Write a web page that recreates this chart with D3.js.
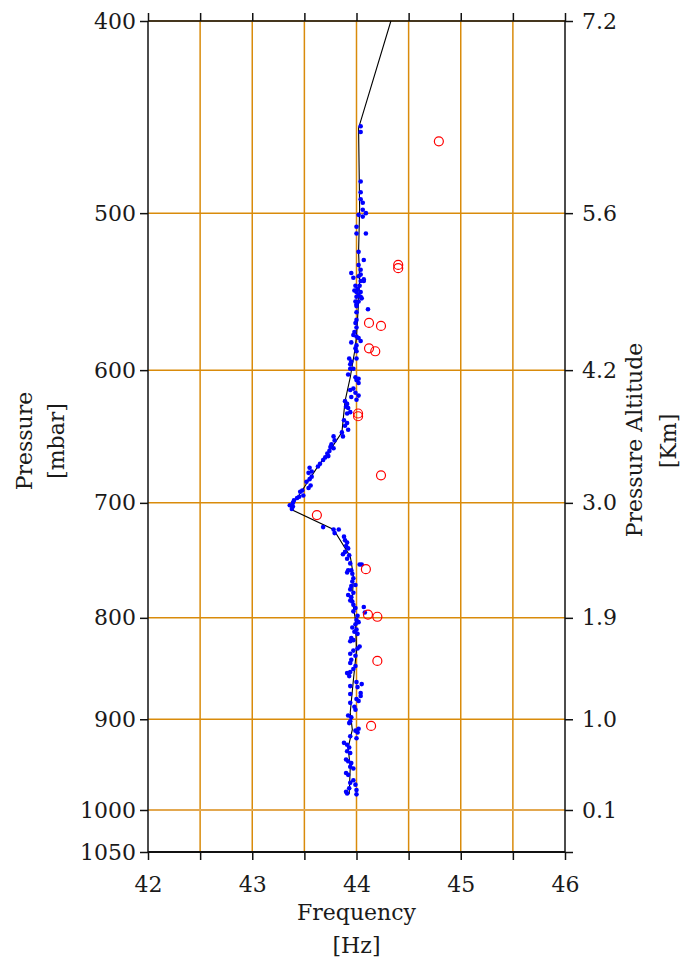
<!DOCTYPE html>
<html><head><meta charset="utf-8">
<script src="https://cdn.jsdelivr.net/npm/d3@7"></script>
<style>
body{margin:0;background:#fff}
text{font-family:"DejaVu Serif",serif;fill:#1a1a1a}
</style>
</head><body>
<svg id="chart" width="683" height="962"></svg>
<script>
// ---- data ----
const freqTicks = [42, 42.5, 43, 43.5, 44, 44.5, 45, 45.5, 46];
const pressureTicks = [400, 500, 600, 700, 800, 900, 1000, 1050];
const altitudeLabels = ["7.2", "5.6", "4.2", "3.0", "1.9", "1.0", "0.1"];

const dotFreq = [44.04,44.04,44.04,44.04,44.04,44.06,44.06,44.09,44.02,44.06,44.00,44.00,44.09,44.02,44.07,44.02,44.04,43.95,44.04,44.02,43.97,44.07,44.04,44.07,
43.99,44.03,44.01,43.98,44.00,44.04,44.02,44.00,44.04,44.05,43.99,44.02,44.00,44.00,44.11,44.00,44.00,43.99,44.00,43.98,43.97,44.00,44.02,44.04,43.95,44.00,
43.99,44.00,44.00,43.93,43.95,43.94,43.94,43.97,43.92,43.99,44.02,44.00,44.02,43.97,43.94,43.99,44.02,43.95,44.00,43.89,43.91,43.90,43.92,43.94,43.91,
43.88,43.91,43.89,43.92,43.86,43.87,43.78,43.79,43.76,43.75,43.78,43.74,43.72,43.73,43.70,43.68,43.65,43.63,43.55,43.57,43.54,43.57,43.55,43.52,43.56,
43.54,43.48,43.46,43.49,43.45,43.43,43.40,43.39,43.36,43.39,43.38,43.68,43.78,43.83,43.79,43.88,43.89,43.91,43.90,43.92,43.89,43.93,43.87,43.91,43.94,
44.03,44.05,43.92,43.95,43.91,43.96,43.97,43.96,43.99,43.95,43.94,43.97,43.92,43.95,43.94,43.96,43.97,43.99,44.07,43.97,44.08,44.01,44.00,44.02,43.99,
43.96,44.00,43.98,44.01,43.95,43.97,43.94,44.03,44.01,43.97,43.94,43.99,43.95,43.94,43.99,43.97,43.91,43.94,43.93,44.00,44.05,43.94,44.01,44.04,43.94,
44.04,44.00,44.02,43.94,43.98,43.99,43.92,43.95,43.94,43.93,44.02,43.99,44.01,43.94,44.00,43.88,43.91,43.93,43.91,43.94,43.90,43.92,43.95,43.94,43.97,
43.90,43.92,43.97,43.94,43.99,43.93,43.90,43.91,44.00,44.00];
const dotPressure = [452,455,482,488,492,494,498,500,501,502,508,512,512,523,528,531,534,536,537,538,539,540,541,541,
544,544,546,547,548,548,550,551,551,552,554,554,556,557,559,561,566,568,571,574,576,577,578,580,581,583,
585,587,592,592,594,596,599,599,603,605,606,607,609,613,614,616,618,619,621,622,624,626,627,630,631,
636,638,640,643,645,648,648,651,654,656,657,659,661,663,664,666,669,671,672,675,676,679,681,683,686,
688,690,691,694,695,696,698,700,702,703,705,720,722,722,725,728,731,733,736,738,741,744,743,747,751,
752,752,757,757,759,760,764,767,770,771,774,777,779,781,784,785,788,791,790,794,795,798,802,804,806,
809,811,813,815,819,821,822,827,829,831,834,836,840,843,846,849,853,852,856,862,864,866,867,873,874,
876,879,881,883,887,890,896,898,902,904,910,912,914,918,920,925,927,930,934,936,943,945,947,951,953,
958,960,966,969,971,975,979,981,982,977];

const lineFreq = [44.33,44.02,44.03,44.02,44.03,44.02,44.00,43.98,43.94,43.89,43.86,43.75,43.63,43.54,43.44,43.36,43.39,43.78,43.94,43.95,43.97,43.96,43.99,44.00,43.97,43.94,43.96,43.92,43.94,43.93];
const linePressure = [400,453,497,523,540,554,577,588,605,622,645,658,671,682,695,702,706,722,745,750,762,784,802,831,860,893,911,930,952,982];

const outlierFreq = [44.79,44.40,44.40,44.12,44.235,44.12,44.18,44.015,44.015,44.235,43.62,44.09,44.11,44.20,44.20,44.14];
const outlierPressure = [460,531,533,568,570,585,587,631,633,678,710,756,797,799,841,907];

// ---- chart ----
const svg = d3.select("#chart");
const L = 148, R = 565, T = 21, B = 852;
const x = d3.scaleLinear().domain([42, 46]).range([L, R]);
const y = d3.scaleLog().domain([400, 1050]).range([T, B]);
const gridColor = "#d98b0b";

// vertical grid
svg.append("g").selectAll("line")
  .data(freqTicks.filter(d => d > 42 && d < 46)).join("line")
  .attr("x1", d => x(d)).attr("x2", d => x(d))
  .attr("y1", T).attr("y2", B)
  .attr("stroke", gridColor).attr("stroke-width", 1.5);
// horizontal grid
svg.append("g").selectAll("line")
  .data(pressureTicks.filter(d => d < 1050)).join("line")
  .attr("x1", L).attr("x2", R)
  .attr("y1", d => y(d)).attr("y2", d => y(d))
  .attr("stroke", d => d === 1000 ? "#e3a850" : gridColor)
  .attr("stroke-width", d => d === 1000 ? 2.2 : 1.5);

// axes
function style(g) {
  g.select(".domain").remove();
  g.selectAll(".tick line").attr("stroke", "#111").attr("stroke-width", 1.5);
  g.selectAll("text").attr("font-size", 22).attr("font-family", "DejaVu Serif").attr("fill", "#1a1a1a");
}
svg.append("g").attr("transform", `translate(0,${B})`)
  .call(d3.axisBottom(x).tickValues(freqTicks).tickSize(8).tickPadding(16)
    .tickFormat(d => Number.isInteger(d) ? d : ""))
  .call(style);
svg.append("g").attr("transform", `translate(0,${T})`)
  .call(d3.axisTop(x).tickValues(freqTicks).tickSize(8).tickFormat(""))
  .call(style);
svg.append("g").attr("transform", `translate(${L},0)`)
  .call(d3.axisLeft(y).tickValues(pressureTicks).tickSize(8).tickPadding(4).tickFormat(d3.format("d")))
  .call(style);
svg.append("g").attr("transform", `translate(${R},0)`)
  .call(d3.axisRight(y).tickValues(pressureTicks).tickSize(8).tickPadding(9)
    .tickFormat((d, i) => altitudeLabels[i] !== undefined ? altitudeLabels[i] : ""))
  .call(style);

// frame
svg.append("line").attr("x1", L).attr("x2", R).attr("y1", T).attr("y2", T).attr("stroke", "#111").attr("stroke-width", 1.5);
svg.append("line").attr("x1", L).attr("x2", R).attr("y1", B).attr("y2", B).attr("stroke", "#111").attr("stroke-width", 2);
svg.append("line").attr("x1", L).attr("x2", L).attr("y1", T).attr("y2", B).attr("stroke", "#111").attr("stroke-width", 1.5);
svg.append("line").attr("x1", R).attr("x2", R).attr("y1", T).attr("y2", B).attr("stroke", "#111").attr("stroke-width", 1.5);

// profile line
const lineData = lineFreq.map((f, i) => [f, linePressure[i]]);
svg.append("path").datum(lineData)
  .attr("fill", "none").attr("stroke", "#000").attr("stroke-width", 1.1)
  .attr("d", d3.line().x(d => x(d[0])).y(d => y(d[1])));

// blue dots
svg.append("g").selectAll("circle")
  .data(dotFreq.map((f, i) => [f, dotPressure[i]])).join("circle")
  .attr("cx", d => x(d[0])).attr("cy", d => y(d[1])).attr("r", 2.3)
  .attr("fill", "#0000ff");

// red outliers
svg.append("g").selectAll("circle")
  .data(outlierFreq.map((f, i) => [f, outlierPressure[i]])).join("circle")
  .attr("cx", d => x(d[0])).attr("cy", d => y(d[1])).attr("r", 4.5)
  .attr("fill", "none").attr("stroke", "#ff0000").attr("stroke-width", 1.2);

// titles
const tf = t => t.attr("font-size", 22).attr("text-anchor", "middle");
svg.append("text").attr("x", (L + R) / 2).attr("y", 920).text("Frequency").call(tf);
svg.append("text").attr("x", (L + R) / 2).attr("y", 953).text("[Hz]").call(tf);
svg.append("text").attr("transform", "translate(32,441) rotate(-90)").text("Pressure").call(tf);
svg.append("text").attr("transform", "translate(64,441) rotate(-90)").text("[mbar]").call(tf);
svg.append("text").attr("transform", "translate(642,440) rotate(-90)").text("Pressure Altitude").call(tf);
svg.append("text").attr("transform", "translate(676,441) rotate(-90)").text("[Km]").call(tf);
</script>
</body></html>
